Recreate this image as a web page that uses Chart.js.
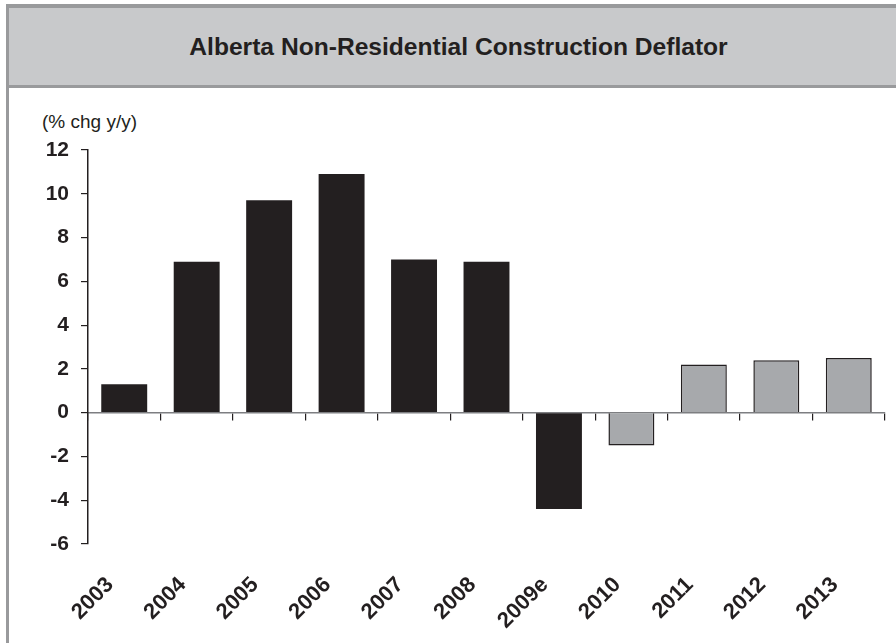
<!DOCTYPE html>
<html>
<head>
<meta charset="utf-8">
<title>Alberta Non-Residential Construction Deflator</title>
<script src="https://cdn.jsdelivr.net/npm/chart.js@4"></script>
<style>
  html, body { margin: 0; padding: 0; background: #fff; }
  body { width: 896px; height: 643px; position: relative; overflow: hidden;
         font-family: "Liberation Sans", Arial, sans-serif; color: #231f20; }
  #cadre { position: absolute; left: 6px; top: 4px; right: 0; bottom: -4px;
           border-left: 3px solid #999a9c; border-top: 4px solid #999a9c; }
  #titre { position: absolute; left: 9px; top: 8px; right: 0; height: 80px;
           background: #c8c9cb; border-bottom: 3px solid #999a9c;
           display: flex; align-items: center; justify-content: center;
           font-weight: bold; font-size: 24.6px; padding-left: 12px; padding-top: 1px; box-sizing: border-box; }
  #unite { position: absolute; left: 42px; top: 111px; font-size: 19px; }
  #graf { position: absolute; left: 0; top: 92px; }
</style>
</head>
<body>
<div id="cadre"></div>
<div id="titre">Alberta Non-Residential Construction Deflator</div>
<div id="unite">(% chg y/y)</div>
<canvas id="graf" width="896" height="551"></canvas>
<script>
// ─── Dados ────────────────────────────────────────────────────────────────────
const ANOS      = ['2003', '2004', '2005', '2006', '2007', '2008', '2009e', '2010', '2011', '2012', '2013'];
const VARIACAO  = [1.3, 6.9, 9.7, 10.9, 7.0, 6.9, -4.4, -1.5, 2.2, 2.4, 2.5];
const PREVISAO  = ['2010', '2011', '2012', '2013'];
const Y_MIN = -6, Y_MAX = 12, Y_PASSO = 2;

// Cores: histórico preto, previsão cinza
const COR_ESCURA = '#231f20';
const COR_CINZA  = '#a7a9ac';
const corBarra = ano => PREVISAO.includes(ano) ? COR_CINZA : COR_ESCURA;

const FONTE = '"Liberation Sans", Arial, sans-serif';

new Chart(document.getElementById('graf'), {
  type: 'bar',
  data: {
    labels: ANOS,
    datasets: [{
      data: VARIACAO,
      backgroundColor: ANOS.map(corBarra),
      borderColor: COR_ESCURA,
      borderWidth: ANOS.map(a => PREVISAO.includes(a) ? 1.5 : 0),
      categoryPercentage: 1,
      barPercentage: 0.634,
    }],
  },
  options: {
    responsive: false,
    animation: false,
    events: [],
    layout: { padding: { left: 0, right: 11, top: 58, bottom: 0 } },
    plugins: { legend: { display: false }, tooltip: { enabled: false }, title: { display: false } },
    scales: {
      // eixo no zero: só a linha e os tracinhos
      x: {
        type: 'category',
        position: { y: 0 },
        offset: true,
        grid: { offset: true, drawOnChartArea: false, drawTicks: true, tickLength: 7, color: COR_ESCURA, lineWidth: 1.2 },
        border: { display: true, color: '#7d7e81', width: 1.5 },
        ticks: { display: false },
      },
      // rótulos dos anos embaixo
      x2: {
        type: 'category',
        labels: ANOS,
        position: 'bottom',
        offset: true,
        grid: { display: false, drawTicks: false },
        border: { display: false },
        ticks: {
          color: COR_ESCURA,
          font: { family: FONTE, size: 22, weight: 'bold' },
          minRotation: 45, maxRotation: 45,
          padding: 28, labelOffset: -14,
          autoSkip: false,
        },
        afterFit: s => { s.height = 99; },
      },
      y: {
        min: Y_MIN, max: Y_MAX,
        grid: { drawOnChartArea: false, drawTicks: true, tickLength: 7, color: COR_ESCURA, lineWidth: 1.2 },
        border: { display: true, color: COR_ESCURA, width: 1.5 },
        ticks: {
          stepSize: Y_PASSO,
          padding: 12,
          color: COR_ESCURA,
          font: { family: FONTE, size: 21, weight: 'bold' },
        },
        afterFit: s => { s.width = 88; },
      },
    },
  },
});
</script>
</body>
</html>
